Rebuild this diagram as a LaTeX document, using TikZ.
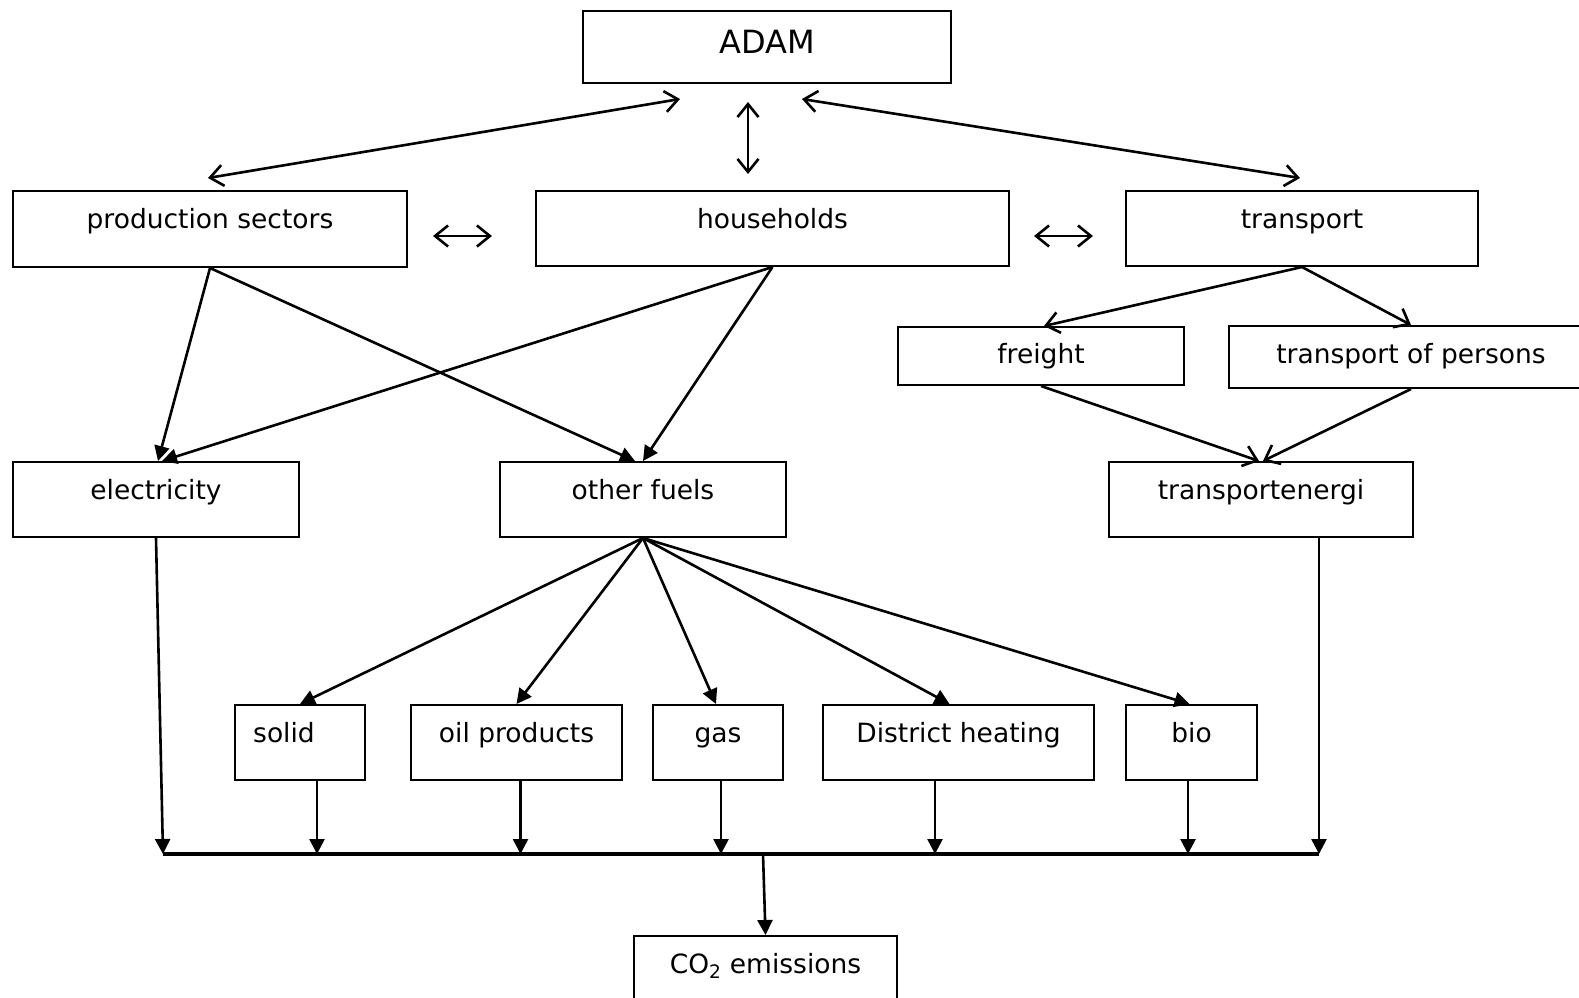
\documentclass[tikz,border=0pt]{standalone}
\usepackage{fontspec}
\setmainfont{DejaVu Sans}
\usetikzlibrary{arrows.meta,calc}
\begin{document}
\begin{tikzpicture}[x=1pt,y=-1pt,
  bx/.style={draw, line width=2pt, rectangle, inner sep=0pt, anchor=north west,
             text height=37pt, text depth=38pt, font=\fontsize{26.5}{30}\selectfont},
  op/.style={line width=2.6pt, {Straight Barb[length=13pt,width=21pt]}-{Straight Barb[length=13pt,width=21pt]}},
  ar/.style={line width=2.6pt, -{Straight Barb[length=13pt,width=21pt]}},
  tri/.style={line width=2.6pt, -{Triangle[length=15pt,width=15pt]}},
  bus/.style={line width=3.4pt}]
\useasboundingbox (0,0) rectangle (1579,997);

% boxes
\node[bx, minimum width=368pt, text height=42pt, text depth=30pt, font=\fontsize{32}{36}\selectfont] (adam) at (582,10) {ADAM};
\node[bx, minimum width=394pt, text depth=39pt] (ps) at (12,190) {production sectors};
\node[bx, minimum width=473pt] (hh) at (535,190) {households};
\node[bx, minimum width=352pt] (tr) at (1125,190) {transport};
\node[bx, minimum width=286pt, text height=36pt, text depth=22pt] (fr) at (897,326) {freight};
\node[bx, minimum width=364pt, text height=37pt, text depth=25pt] (tp) at (1228,325) {transport of persons};
\node[bx, minimum width=286pt] (el) at (12,461) {electricity};
\node[bx, minimum width=286pt] (of) at (499,461) {other fuels};
\node[bx, minimum width=304pt] (te) at (1108,461) {transportenergi};
\node[bx, minimum width=130pt] (so) at (234,704) {solid\hspace*{32pt}};
\node[bx, minimum width=211pt] (oi) at (410,704) {oil products};
\node[bx, minimum width=130pt] (ga) at (652,704) {gas};
\node[bx, minimum width=271pt] (dh) at (822,704) {District heating};
\node[bx, minimum width=131pt] (bi) at (1125,704) {bio};
\node[bx, minimum width=263pt, text depth=50pt] (co) at (633,935) {CO\textsubscript{2} emissions};

% free ends
\coordinate (aL) at (680,99);
\coordinate (aM) at (748,102);
\coordinate (aR) at (802,99);
\coordinate (psT) at (208,178);
\coordinate (hhT) at (748,174);
\coordinate (trT) at (1300,178);
\coordinate (m1a) at (433,236);
\coordinate (m1b) at (492,236);
\coordinate (m2a) at (1034,236);
\coordinate (m2b) at (1093,236);
\coordinate (busL) at (163,854);
\coordinate (busR) at (1319,854);
\coordinate (busM) at (763,854);

% ADAM links
\draw[op] (aL) -- (psT);
\draw[op] (aM) -- (hhT);
\draw[op] (aR) -- (trT);
\draw[op] (m1a) -- (m1b);
\draw[op] (m2a) -- (m2b);

% sectors to energy
\draw[tri] (ps.south) -- ([xshift=2pt]el.north);
\draw[tri] (hh.south) -- ([xshift=6pt]el.north);
\draw[tri] (ps.south) -- ([xshift=-8pt]of.north);
\draw[tri] (hh.south) -- (of.north);
\draw[ar] (tr.south) -- ([xshift=3pt]fr.north);
\draw[ar] (tr.south) -- (tp.north);
\draw[ar] (fr.south) -- ([xshift=-2pt]te.north);
\draw[ar] (tp.south) -- ([xshift=2pt]te.north);

% other fuels fan
\draw[tri] (of.south) -- (so.north);
\draw[tri] (of.south) -- (oi.north);
\draw[tri] (of.south) -- ([xshift=-2pt]ga.north);
\draw[tri] (of.south) -- ([xshift=-9pt]dh.north);
\draw[tri] (of.south) -- ([xshift=-2pt]bi.north);

% bus
\draw[bus] (busL) -- (busR);
\draw[tri] (el.south) -- (busL);
\draw[tri] ([xshift=17pt]so.south) -- ([xshift=17pt]so.south |- busL);
\draw[tri] ([xshift=4pt]oi.south) -- ([xshift=4pt]oi.south |- busL);
\draw[tri] ([xshift=3pt]ga.south) -- ([xshift=3pt]ga.south |- busL);
\draw[tri] ([xshift=-23.5pt]dh.south) -- ([xshift=-23.5pt]dh.south |- busL);
\draw[tri] ([xshift=-3.5pt]bi.south) -- ([xshift=-3.5pt]bi.south |- busL);
\draw[tri] ([xshift=58pt]te.south) -- ([xshift=58pt]te.south |- busR);
\draw[tri] (busM) -- (co.north);
\end{tikzpicture}
\end{document}
